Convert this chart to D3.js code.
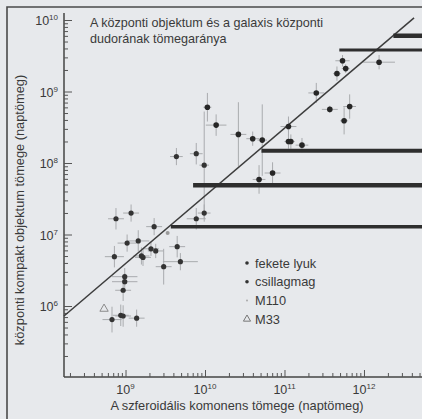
<!DOCTYPE html>
<html>
<head>
<meta charset="utf-8">
<script src="https://cdn.jsdelivr.net/npm/d3@7"></script>
<style>
  html, body { margin: 0; padding: 0; background: #e7e9ec; }
  svg { display: block; }
  text { font-family: "Liberation Sans", Arial, Helvetica, sans-serif; fill: #3a3a3a; }
</style>
</head>
<body>
<svg id="chart" width="422" height="419"></svg>
<script>
// ---- data (log10 of masses) ----
// fekete lyuk (black holes)
const bhLogX  = [11.73, 11.77, 11.66, 12.19, 11.40, 11.57, 11.82, 11.75, 11.05, 10.14, 10.42, 10.60, 10.72, 11.05, 11.08, 11.22, 10.85, 10.68, 10.03];
const bhLogY  = [ 9.43,  9.32,  9.25,  9.41,  8.98,  8.75,  8.79,  8.59,  8.51,  8.53,  8.40,  8.34,  8.32,  8.30,  8.30,  8.25,  7.86,  7.77,  8.78];
const bhErrX  = [ 0.09,  0.05,  0.05,  0.20,  0.10,  0.10,  0.08,  0.05,  0.10,  0.13,  0.10,  0.08,  0.06,  0.05,  0.05,  0.08,  0.10,  0.08,  0.05];
const bhErrY  = [ 0.08,  0.06,  0.10,  0.10,  0.14,  0.05,  0.17,  0.19,  0.14,  0.15,  0.45,  0.10,  0.50,  0.10,  0.10,  0.10,  0.15,  0.20,  0.20];
// csillagmag (stellar nuclei)
const nucLogX = [9.64, 9.89, 9.99, 9.07, 8.88, 9.89, 9.99, 9.36, 9.02, 9.16, 8.86, 9.32, 9.38, 9.20, 9.22, 9.65, 9.69, 9.48, 8.99, 8.99, 8.97, 8.83, 8.94, 8.97, 9.14];
const nucLogY = [8.09, 8.13, 7.97, 7.30, 7.22, 7.22, 7.30, 7.11, 6.88, 6.91, 6.69, 6.80, 6.77, 6.70, 6.68, 6.83, 6.62, 6.55, 6.41, 6.34, 6.22, 5.81, 5.87, 5.86, 5.83];
const nucErrX = [0.08, 0.08, 0.06, 0.10, 0.10, 0.12, 0.08, 0.10, 0.12, 0.14, 0.12, 0.10, 0.10, 0.10, 0.10, 0.10, 0.22, 0.10, 0.16, 0.16, 0.10, 0.12, 0.10, 0.10, 0.10];
const nucErrY = [0.12, 0.15, 0.75, 0.12, 0.15, 0.15, 0.12, 0.12, 0.12, 0.15, 0.15, 0.10, 0.10, 0.12, 0.12, 0.15, 0.12, 0.25, 0.12, 0.12, 0.15, 0.18, 0.15, 0.15, 0.12];
// M110 and M33
const m110LogX = [9.53], m110LogY = [7.02];
const m33LogX  = [8.73], m33LogY  = [5.96];
// thick horizontal bars (start of bar on x, level on y)
const barLogY     = [9.78, 9.58, 8.17, 7.69, 7.11];
const barLogXFrom = [12.37, 11.69, 10.71, 9.85, 9.57];
const barLogXTo   = [13.2, 13.2, 13.2, 13.2, 13.2];
// fitted relation line end points
const fitLogX = [8.226, 12.63];
const fitLogY = [5.86, 10.03];
// ticks
const xMajorExp = [9, 10, 11, 12];
const yMajorExp = [10, 9, 8, 7, 6];
const legendLabels = ["fekete lyuk", "csillagmag", "M110", "M33"];
const titleLines = ["A központi objektum és a galaxis központi", "dudorának tömegaránya"];
const xTitle = "A szferoidális komonens tömege (naptömeg)";
const yTitle = "központi kompakt objektum tömege (naptömeg)";

const P = v => Math.pow(10, v);

const svg = d3.select("#chart");
const W = 422, H = 419;
const x = d3.scaleLog().domain([P(8.226), P(12.73)]).range([64, 422]);
const y = d3.scaleLog().domain([1e5, 1e10]).range([377.5, 20]);
const axisY0 = 377;

svg.append("rect").attr("width", W).attr("height", H).attr("fill", "#e7e9ec");

// frame
svg.append("path").attr("d", "M7,430 V7 H440").attr("fill", "none")
  .attr("stroke", "#4a4a4a").attr("stroke-width", 1.6);

// title
titleLines.forEach((t, i) => {
  svg.append("text").attr("x", 90).attr("y", 27 + i * 15.5)
    .attr("font-size", 12.6).text(t);
});

// axis lines
svg.append("line").attr("x1", 64).attr("x2", 64).attr("y1", 13).attr("y2", axisY0)
  .attr("stroke", "#444").attr("stroke-width", 1.5);
svg.append("line").attr("x1", 64).attr("x2", 440).attr("y1", axisY0).attr("y2", axisY0)
  .attr("stroke", "#444").attr("stroke-width", 1.5);

// y ticks
const yMinor = [];
for (let e = 5; e < 10; e++) for (let m = 2; m <= 9; m++) yMinor.push(m * P(e));
const gyMinor = svg.append("g").attr("transform", "translate(64,0)")
  .call(d3.axisRight(y).tickValues(yMinor).tickSize(4).tickFormat(""));
const gyMajor = svg.append("g").attr("transform", "translate(64,0)")
  .call(d3.axisRight(y).tickValues(yMajorExp.map(P)).tickSize(8).tickFormat(""));
// x ticks
const xMinor = [];
for (let e = 8; e <= 12; e++) for (let m = 2; m <= 9; m++) { const v = m * P(e); if (v > x.domain()[0] && v < P(12.7)) xMinor.push(v); }
const gxMinor = svg.append("g").attr("transform", `translate(0,${axisY0})`)
  .call(d3.axisTop(x).tickValues(xMinor).tickSize(4).tickFormat(""));
const gxMajor = svg.append("g").attr("transform", `translate(0,${axisY0})`)
  .call(d3.axisTop(x).tickValues(xMajorExp.map(P)).tickSize(7).tickFormat(""));
[gyMinor, gyMajor, gxMinor, gxMajor].forEach(g => {
  g.select(".domain").remove();
  g.selectAll(".tick line").attr("stroke", "#555").attr("stroke-width", 1);
});

// tick labels
yMajorExp.forEach(e => {
  const t = svg.append("text").attr("x", 58).attr("y", y(P(e)) + 5)
    .attr("text-anchor", "end").attr("font-size", 12.5).attr("fill", "#444");
  t.append("tspan").text("10");
  t.append("tspan").attr("font-size", 8).attr("dy", -5).text(String(e));
});
xMajorExp.forEach(e => {
  const t = svg.append("text").attr("x", x(P(e))).attr("y", 394)
    .attr("text-anchor", "middle").attr("font-size", 12.5).attr("fill", "#444");
  t.append("tspan").text("10");
  t.append("tspan").attr("font-size", 8).attr("dy", -5).text(String(e));
});

// axis titles
svg.append("text").attr("x", 237).attr("y", 410).attr("text-anchor", "middle")
  .attr("font-size", 12.8).text(xTitle);
svg.append("text").attr("transform", "translate(24,210) rotate(-90)")
  .attr("text-anchor", "middle").attr("font-size", 12.8).text(yTitle);

// error bars
const errG = svg.append("g").attr("stroke", "#a9abae").attr("stroke-width", 1);
function errBars(lx, ly, ex, ey) {
  lx.forEach((v, i) => {
    errG.append("line").attr("x1", x(P(v - ex[i]))).attr("x2", x(P(v + ex[i])))
      .attr("y1", y(P(ly[i]))).attr("y2", y(P(ly[i])));
    errG.append("line").attr("x1", x(P(v))).attr("x2", x(P(v)))
      .attr("y1", y(P(ly[i] - ey[i]))).attr("y2", y(P(ly[i] + ey[i])));
  });
}
errBars(bhLogX, bhLogY, bhErrX, bhErrY);
errBars(nucLogX, nucLogY, nucErrX, nucErrY);

// fit line
svg.append("line")
  .attr("x1", x(P(fitLogX[0]))).attr("y1", y(P(fitLogY[0])))
  .attr("x2", x(P(fitLogX[1]))).attr("y2", y(P(fitLogY[1])))
  .attr("stroke", "#3d3d3d").attr("stroke-width", 1.5);

// thick bars
barLogY.forEach((v, i) => {
  svg.append("line")
    .attr("x1", x(P(barLogXFrom[i]))).attr("x2", x(P(barLogXTo[i])))
    .attr("y1", y(P(v))).attr("y2", y(P(v)))
    .attr("stroke", "#2e2e2e").attr("stroke-width", [4.5, 3, 4, 4.5, 3.5][i]);
});

// points
svg.append("g").selectAll("circle").data(bhLogX.map((v, i) => [v, bhLogY[i]])).join("circle")
  .attr("cx", d => x(P(d[0]))).attr("cy", d => y(P(d[1]))).attr("r", 2.8).attr("fill", "#262626");
svg.append("g").selectAll("circle").data(nucLogX.map((v, i) => [v, nucLogY[i]])).join("circle")
  .attr("cx", d => x(P(d[0]))).attr("cy", d => y(P(d[1]))).attr("r", 2.6).attr("fill", "#333");
svg.append("g").selectAll("circle").data(m110LogX.map((v, i) => [v, m110LogY[i]])).join("circle")
  .attr("cx", d => x(P(d[0]))).attr("cy", d => y(P(d[1]))).attr("r", 2).attr("fill", "#9a9a9a");
const tri = d3.symbol().type(d3.symbolTriangle).size(30);
svg.append("g").selectAll("path").data(m33LogX.map((v, i) => [v, m33LogY[i]])).join("path")
  .attr("d", tri).attr("transform", d => `translate(${x(P(d[0]))},${y(P(d[1]))})`)
  .attr("fill", "none").attr("stroke", "#8a8a8a").attr("stroke-width", 1);

// legend
const lg = svg.append("g");
legendLabels.forEach((t, i) => {
  const cy = 263 + i * 18.7;
  if (i < 2) lg.append("circle").attr("cx", 247).attr("cy", cy).attr("r", 1.8).attr("fill", "#333");
  else if (i === 2) lg.append("circle").attr("cx", 247).attr("cy", cy).attr("r", 1).attr("fill", "#aaa");
  else lg.append("path").attr("d", d3.symbol().type(d3.symbolTriangle).size(22))
    .attr("transform", `translate(247,${cy})`).attr("fill", "none").attr("stroke", "#777");
  lg.append("text").attr("x", 255).attr("y", cy + 4.5).attr("font-size", 12.8).text(t);
});
</script>
</body>
</html>
